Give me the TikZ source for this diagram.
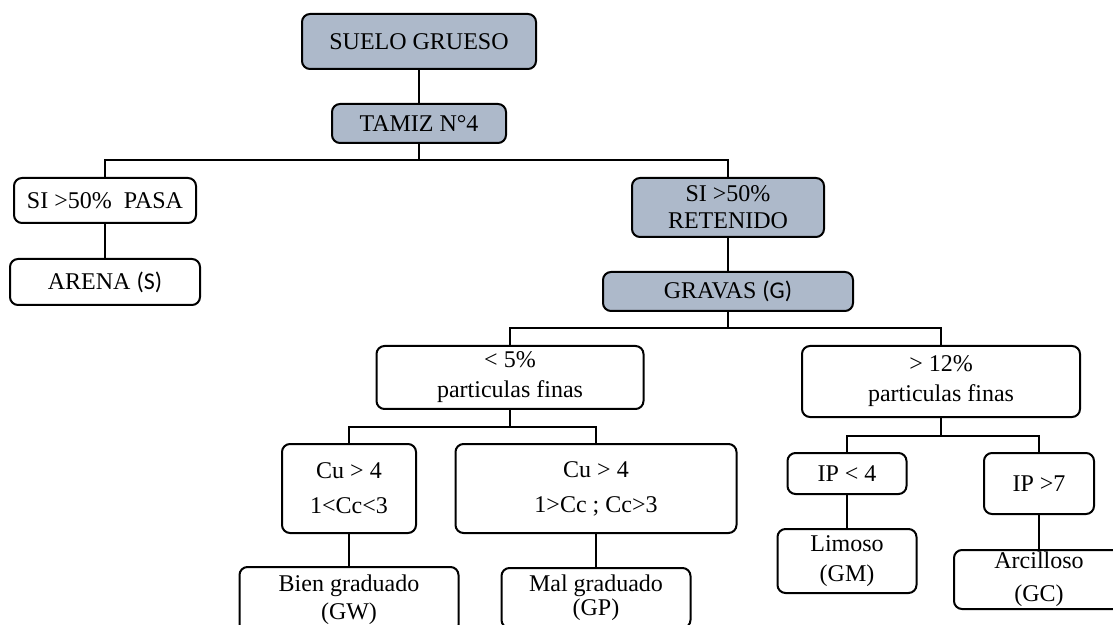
\documentclass[tikz,border=0pt]{standalone}
\usepackage{fontspec}
\setmainfont{Liberation Serif}
\newfontfamily\calib{Carlito}
\definecolor{boxgray}{RGB}{173,185,202}
\begin{document}
\begin{tikzpicture}[x=0.5pt,y=-0.5pt,
  box/.style={draw, rounded corners=4pt, line width=1pt, inner sep=0pt,
    align=center, font=\fontsize{12}{14}\selectfont},
  grey/.style={box, fill=boxgray},
  link/.style={line width=0.8pt}]
\useasboundingbox (0,0) rectangle (1113,625);
\clip (0,0) rectangle (1113,625);

% upper part of the tree
\node[grey, minimum width=117pt, minimum height=27.5pt] (sg) at (419,41.5) {SUELO GRUESO};
\node[grey, minimum width=87pt, minimum height=19.5pt] (tamiz) at (419,123.5) {TAMIZ N°4};
\node[box, minimum width=91pt, minimum height=22.5pt] (pasa) at (105,200.5) {SI >50\%\ \ PASA};
\node[box, minimum width=95pt, minimum height=23pt] (arena) at (105,282) {ARENA {\calib(S)}};
\node[grey, minimum width=96pt, minimum height=29.5pt] (ret) at (728,207.5) {SI >50\%\\[-0.5pt]RETENIDO};
\node[grey, minimum width=125pt, minimum height=19.5pt] (grav) at (728,291.5) {GRAVAS {\calib(G)}};

% fines content
\node[box, minimum width=133.5pt, minimum height=31.5pt] (lt5) at (510,377.5) {< 5\%\\[1pt]particulas finas};
\node[box, minimum width=139pt, minimum height=35.5pt] (gt12) at (941,381.5) {> 12\%\\[1pt]particulas finas};

% grading criteria
\node[box, minimum width=67pt, minimum height=44.5pt] (cu1) at (349,488.5) {Cu > 4\\[3.5pt]1<Cc<3};
\node[box, minimum width=140.5pt, minimum height=44.5pt] (cu2) at (596,488.5) {Cu > 4\\[3.5pt]1>Cc ; Cc>3};
\node[box, minimum width=109.5pt, minimum height=33pt] (bien) at (349,600) {Bien graduado\\[0pt](GW)};
\node[box, minimum width=94.5pt, minimum height=30pt] (mal) at (596,598) {Mal graduado\\[-2pt](GP)};

% plasticity criteria
\node[box, minimum width=59.5pt, minimum height=20.5pt] (ip4) at (847,473.5) {IP < 4};
\node[box, minimum width=55pt, minimum height=30.5pt] (ip7) at (1039,483.5) {IP >7};
\node[box, minimum width=69.5pt, minimum height=32pt] (lim) at (847,561) {Limoso\\[1pt](GM)};
\node[box, minimum width=85pt, minimum height=29.5pt] (arc) at (1039,579.5) {Arcilloso\\[2.5pt](GC)};

% junction points of the branches
\coordinate (j1) at (419,160);
\coordinate (j2) at (728,328);
\coordinate (j3) at (510,427);
\coordinate (j4) at (941,436);

% connectors
\draw[link] (sg.south) -- (tamiz.north);
\draw[link] (tamiz.south) -- (j1);
\draw[link] (pasa.north) |- (j1) -| (ret.north);
\draw[link] (pasa.south) -- (arena.north);
\draw[link] (ret.south) -- (grav.north);
\draw[link] (grav.south) -- (j2);
\draw[link] (lt5.north) |- (j2) -| (gt12.north);
\draw[link] (lt5.south) -- (j3);
\draw[link] (cu1.north) |- (j3) -| (cu2.north);
\draw[link] (cu1.south) -- (bien.north);
\draw[link] (cu2.south) -- (mal.north);
\draw[link] (gt12.south) -- (j4);
\draw[link] (ip4.north) |- (j4) -| (ip7.north);
\draw[link] (ip4.south) -- (lim.north);
\draw[link] (ip7.south) -- (arc.north);
\end{tikzpicture}
\end{document}
